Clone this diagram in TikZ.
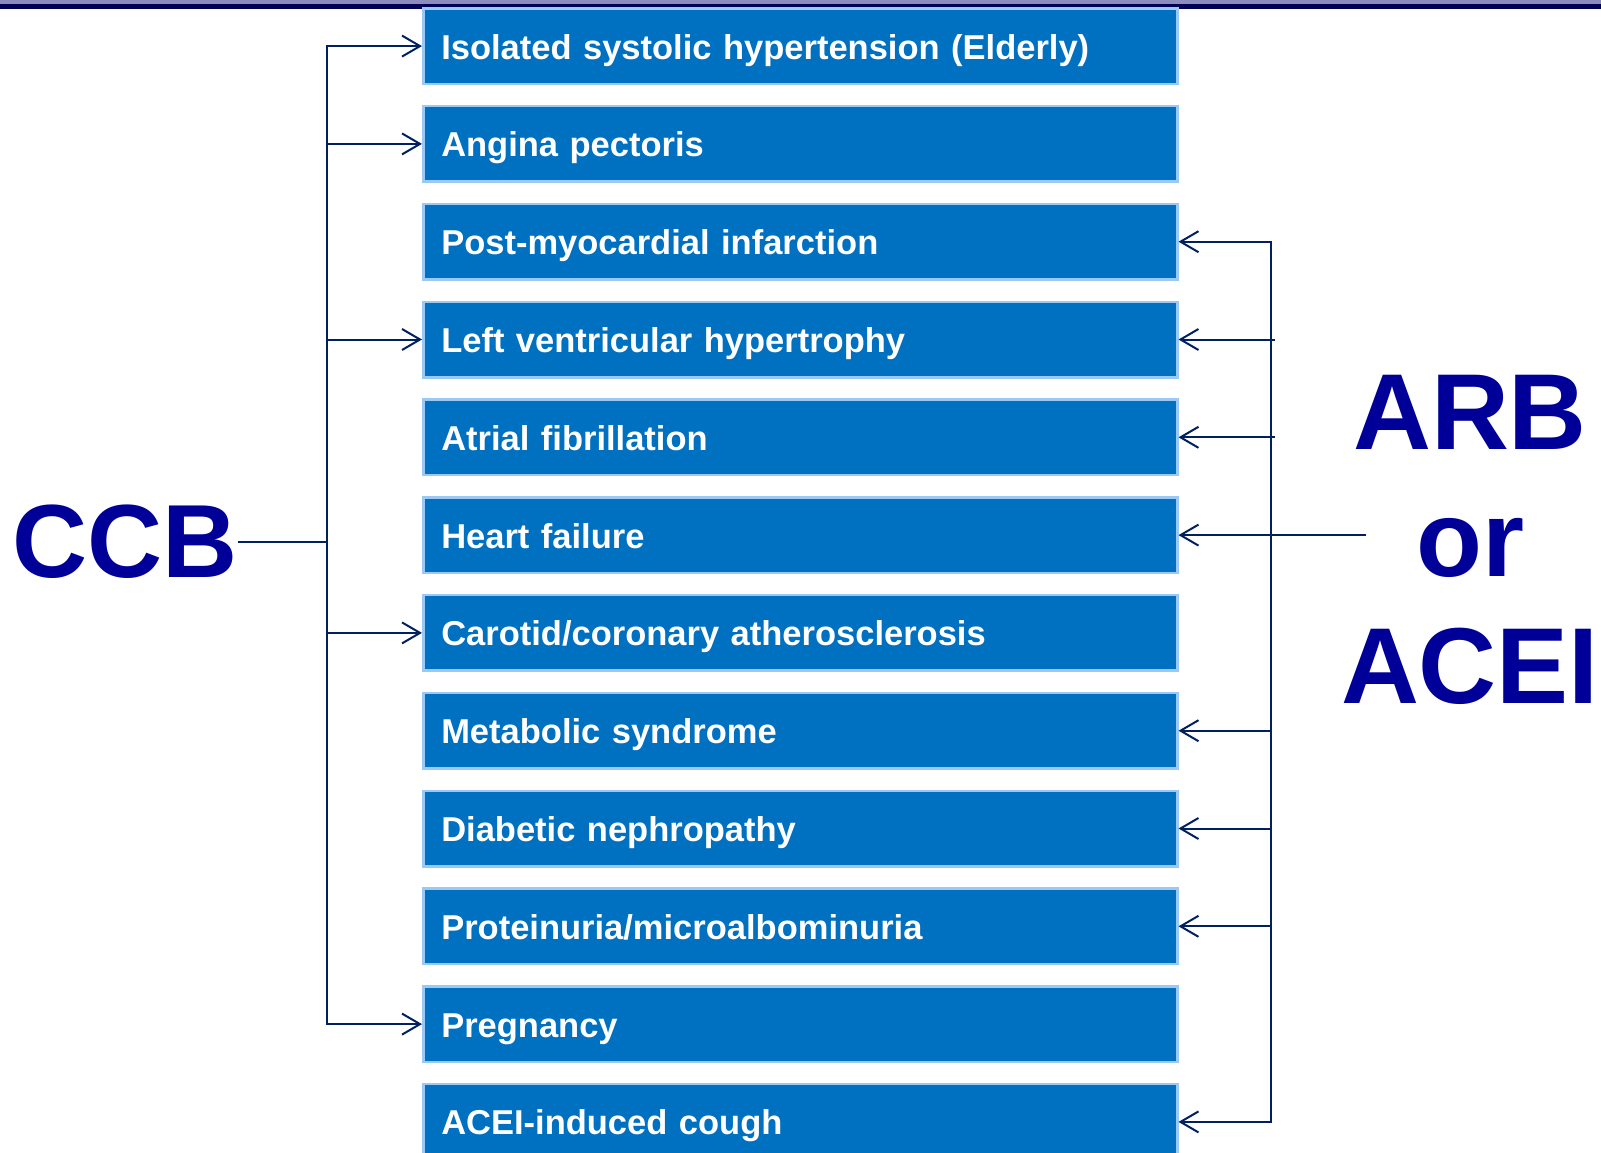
\documentclass[tikz,border=0pt]{standalone}
\usepackage{fontspec}
\setmainfont{Liberation Sans}
\usetikzlibrary{arrows.meta}
\definecolor{boxblue}{RGB}{0,112,192}
\definecolor{boxedge}{RGB}{155,200,245}
\definecolor{linkblue}{RGB}{0,32,96}
\definecolor{drugblue}{RGB}{0,0,153}
\definecolor{bandtop}{RGB}{140,140,190}
\definecolor{bandnavy}{RGB}{0,0,85}
\tikzset{
  box/.style={draw=boxedge, line width=2.5pt, fill=boxblue, text=white, anchor=west,
    minimum width=754pt, minimum height=75.5pt, inner xsep=18pt, inner ysep=0pt,
    text width=718pt, text height=26pt, text depth=0pt, align=left,
    font=\fontsize{34.5}{40}\selectfont\bfseries},
  drug/.style={text=drugblue, inner sep=0pt, align=center,
    font=\fontsize{108}{127}\selectfont\bfseries},
  link/.style={draw=linkblue, line width=2pt, >={Straight Barb[length=18pt,width=21pt]}}
}
\begin{document}
\begin{tikzpicture}[x=1pt,y=-1pt]
\clip (0,0) rectangle (1601,1153);
% title band
\fill[bandtop] (0,0) rectangle (1601,4);
\fill[bandnavy] (0,4) rectangle (1601,9);

% indications
\node[box] (isolated) at (422,46.1) {Isolated systolic hypertension (Elderly)};
\node[box] (angina) at (422,143.9) {Angina pectoris};
\node[box] (postmi) at (422,241.7) {Post-myocardial infarction};
\node[box] (lvh) at (422,339.5) {Left ventricular hypertrophy};
\node[box] (af) at (422,437.3) {Atrial fibrillation};
\node[box] (hf) at (422,535.1) {Heart failure};
\node[box] (carotid) at (422,632.9) {Carotid/coronary atherosclerosis};
\node[box] (metab) at (422,730.7) {Metabolic syndrome};
\node[box] (nephro) at (422,828.5) {Diabetic nephropathy};
\node[box] (protein) at (422,926.3) {Proteinuria/microalbominuria};
\node[box] (preg) at (422,1024.1) {Pregnancy};
\node[box] (cough) at (422,1121.9) {ACEI-induced cough};

% drug classes
\node[drug, anchor=east, font=\fontsize{104}{120}\selectfont\bfseries] (ccb) at (238,542) {CCB};
\node[drug] (arb) at (1470,540) {ARB\\or\\ACEI};

% CCB bracket
\coordinate (lbus) at (327,0);
\draw[link] (ccb.east) -- (ccb.east -| lbus);
\draw[link,<->] (isolated.west) -- (isolated.west -| lbus) -- (preg.west -| lbus) -- (preg.west);
\draw[link,->] (angina.west -| lbus) -- (angina.west);
\draw[link,->] (lvh.west -| lbus) -- (lvh.west);
\draw[link,->] (carotid.west -| lbus) -- (carotid.west);

% ARB/ACEI bracket
\coordinate (rbus) at (1271,0);
\coordinate (rstub) at (1275,0);
\coordinate (arbin) at (1366,0);
\draw[link,<->] (postmi.east) -- (postmi.east -| rbus) -- (cough.east -| rbus) -- (cough.east);
\draw[link,->] (lvh.east -| rstub) -- (lvh.east);
\draw[link,->] (af.east -| rstub) -- (af.east);
\draw[link,->] (hf.east -| arbin) -- (hf.east);
\draw[link,->] (metab.east -| rbus) -- (metab.east);
\draw[link,->] (nephro.east -| rbus) -- (nephro.east);
\draw[link,->] (protein.east -| rbus) -- (protein.east);
\end{tikzpicture}
\end{document}
